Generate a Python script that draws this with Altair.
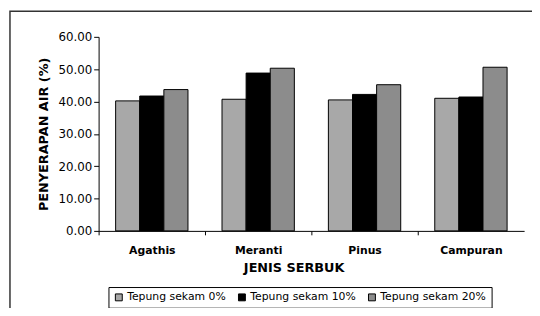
import altair as alt
import pandas as pd

categories = ["Agathis", "Meranti", "Pinus", "Campuran"]
series = ["Tepung sekam 0%", "Tepung sekam 10%", "Tepung sekam 20%"]
s0 = [40.2, 40.7, 40.5, 41.0]
s10 = [41.7, 48.8, 42.2, 41.4]
s20 = [43.7, 50.3, 45.2, 50.6]
y_ticks = [0, 10, 20, 30, 40, 50, 60]

rows = []
for vals, s in zip([s0, s10, s20], series):
    for c, v in zip(categories, vals):
        rows.append({"jenis": c, "seri": s, "nilai": v})
df = pd.DataFrame(rows)

FONT = "DejaVu Sans"

bars = alt.Chart(df).mark_bar(stroke="black", strokeWidth=1).encode(
    x=alt.X("jenis:N", sort=categories,
            scale=alt.Scale(paddingInner=0.32, paddingOuter=0.16),
            axis=alt.Axis(title="JENIS SERBUK", labelAngle=0,
                          labelFont=FONT, labelFontWeight="bold", labelFontSize=11,
                          labelColor="black", labelPadding=10,
                          tickOffset=-54, labelOffset=54, tickSize=4,
                          tickColor="black", domainColor="black",
                          titleFont=FONT, titleFontWeight="bold", titleFontSize=13,
                          titleColor="black", titleX=198, titlePadding=6)),
    xOffset=alt.XOffset("seri:N", sort=series),
    y=alt.Y("nilai:Q",
            scale=alt.Scale(domain=[0, 60], nice=False),
            axis=alt.Axis(title="PENYERAPAN AIR (%)", values=y_ticks, format=".2f",
                          grid=False, labelFont=FONT, labelFontSize=12,
                          labelColor="black", tickColor="black", tickSize=5,
                          labelPadding=2, domainColor="black",
                          titleFont=FONT, titleFontWeight="bold", titleFontSize=13,
                          titleColor="black", titlePadding=8)),
    color=alt.Color("seri:N", sort=series,
                    scale=alt.Scale(domain=series, range=["#a8a8a8", "#000000", "#8c8c8c"]),
                    legend=alt.Legend(title=None, orient="none", legendX=10, legendY=254,
                                      direction="horizontal", strokeColor="black",
                                      padding=5, symbolType="square", symbolSize=49,
                                      symbolStrokeColor="black", symbolStrokeWidth=1,
                                      labelFont=FONT, labelFontSize=11, labelColor="black",
                                      labelOffset=3, columnPadding=10)),
)

frame = alt.Chart(alt.Data(values=[{"a": 1}])).mark_rect(
    fill=None, stroke="#333333", strokeWidth=1.5
).encode(
    x=alt.value(-90), x2=alt.value(450), y=alt.value(-26), y2=alt.value(300)
)

chart = alt.layer(frame, bars).properties(
    width=432, height=197,
    autosize=alt.AutoSizeParams(type="none"),
    padding={"left": 92, "top": 27, "right": 8, "bottom": 76},
).configure_view(stroke=None)

chart.save("out.html", embed_options={"renderer": "svg", "actions": False})
